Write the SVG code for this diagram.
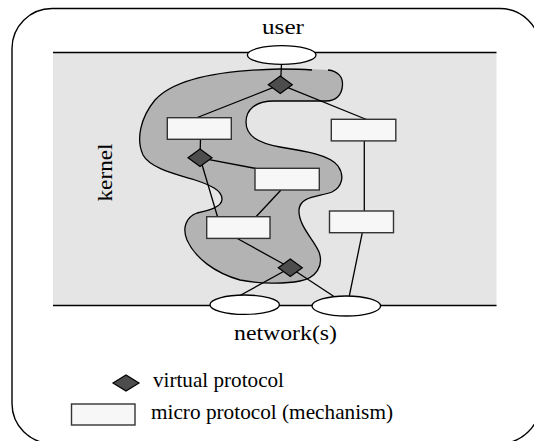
<svg xmlns="http://www.w3.org/2000/svg" width="534" height="441" viewBox="0 0 534 441">
  <style>
    .txt { font-family: "Liberation Serif", "DejaVu Serif", serif; font-size: 22px; fill: #000; }
    .leg { font-size: 21px; }
    .edge { stroke: #000; stroke-width: 1.3; fill: none; }
    .vp { fill: #4d4d4d; stroke: #000; stroke-width: 1.2; }
    .mp { fill: #f7f7f7; stroke: #333; stroke-width: 1.4; }
    .port { fill: #fff; stroke: #000; stroke-width: 1.3; }
  </style>
  <defs>
    <path id="diamond" d="M0,-8.7 L12,0 L0,8.7 L-12,0 Z"/>
  </defs>

  <!-- frame -->
  <rect x="12" y="8.5" width="528" height="435" rx="40" ry="40" fill="#fff" stroke="#000" stroke-width="1.4"/>

  <!-- kernel band -->
  <g id="kernel">
    <rect x="53" y="52.5" width="443.5" height="253" fill="#e5e5e5"/>
    <line x1="53" y1="52.5" x2="496.5" y2="52.5" stroke="#000" stroke-width="1.3"/>
    <line x1="53" y1="305.5" x2="496.5" y2="305.5" stroke="#000" stroke-width="1.3"/>
    <text class="txt" font-family="Liberation Serif, DejaVu Serif, serif" transform="translate(111.5,172.5) rotate(-90)" text-anchor="middle" textLength="58" lengthAdjust="spacingAndGlyphs">kernel</text>
  </g>

  <!-- region covered by the virtual protocols -->
  <g id="vp-region">
    <path d="M280,69 C300,69 318,69 328,70 C338,71 343,77 342.5,85 C342,95 336,101 326,101 L274,101 C255,101 246,110 246,122 C246,136 258,143 280,147 C305,151 330,155 338,166 C345,176 342,187 332,192 C318,197 300,196 299,210 C298,225 314,240 319,252 C324,266 316,278 300,281 C285,284 260,284 240,280 C215,273 195,258 187,240 C182,228 186,217 197,213 C210,210 222,207 222,199 C222,190 210,185 195,180 C175,174 150,168 143,155 C136,140 140,118 155,100 C175,78 225,70 280,69 Z" fill="#b3b3b3"/>
    <path d="M312,70 C300,69 290,69 280,69 C225,70 175,78 155,100 C140,118 136,140 143,155 C150,168 175,174 195,180 C210,185 222,190 222,199 C222,207 210,210 197,213 C186,217 182,228 187,240 C195,258 215,273 240,280 C260,284 285,284 300,281 C316,278 324,266 319,252 C314,240 298,225 299,210 C300,196 318,197 332,192 C342,187 345,176 338,166 C330,155 305,151 280,147 C258,143 246,136 246,122 C246,110 255,101 274,101 L326,101 C336,101 342,95 342.5,85 C343,77 338,71 328,70" fill="none" stroke="#000" stroke-width="1.3"/>
  </g>

  <!-- connectors -->
  <g id="connectors" class="edge">
    <line x1="281.5" y1="64" x2="280.5" y2="84.7"/>
    <line x1="280.5" y1="84.7" x2="196" y2="118"/>
    <line x1="280.5" y1="84.7" x2="366.5" y2="119.5"/>
    <line x1="200.5" y1="139.5" x2="200" y2="157.8"/>
    <line x1="200" y1="157.8" x2="256" y2="168.5"/>
    <line x1="200" y1="157.8" x2="217.5" y2="216.7"/>
    <line x1="281" y1="190" x2="256" y2="216.7"/>
    <line x1="364.3" y1="141" x2="364.3" y2="211"/>
    <line x1="362.3" y1="232.7" x2="349.3" y2="296"/>
    <line x1="237.3" y1="238.5" x2="290.3" y2="267.8"/>
    <line x1="290.3" y1="267.8" x2="240" y2="295.5"/>
    <line x1="290.3" y1="267.8" x2="334" y2="296.5"/>
  </g>

  <!-- end points -->
  <g id="user">
    <ellipse class="port" cx="281.7" cy="55" rx="34.3" ry="9.3"/>
    <text class="txt" font-family="Liberation Serif, DejaVu Serif, serif" x="283" y="34" text-anchor="middle" textLength="42" lengthAdjust="spacingAndGlyphs">user</text>
  </g>
  <g id="net-a">
    <ellipse class="port" cx="244.7" cy="304.7" rx="34.7" ry="9.7"/>
  </g>
  <g id="net-b">
    <ellipse class="port" cx="346.3" cy="306" rx="34.3" ry="10"/>
  </g>
  <text class="txt" font-family="Liberation Serif, DejaVu Serif, serif" x="285.5" y="340" text-anchor="middle" textLength="103" lengthAdjust="spacingAndGlyphs">network(s)</text>

  <!-- virtual protocols -->
  <g id="vp-top"><use href="#diamond" class="vp" x="280.3" y="84.7"/></g>
  <g id="vp-mid"><use href="#diamond" class="vp" x="200" y="157.8"/></g>
  <g id="vp-low"><use href="#diamond" class="vp" x="290.3" y="267.8"/></g>

  <!-- micro protocols -->
  <g id="mp-a"><rect class="mp" x="167.3" y="117.7" width="64" height="21.6"/></g>
  <g id="mp-b"><rect class="mp" x="331.3" y="119.3" width="64.5" height="21.6"/></g>
  <g id="mp-c"><rect class="mp" x="255" y="168.3" width="64.3" height="21.7"/></g>
  <g id="mp-d"><rect class="mp" x="206.7" y="216.7" width="63.3" height="21.7"/></g>
  <g id="mp-e"><rect class="mp" x="329.5" y="211" width="64" height="21.7"/></g>

  <!-- legend -->
  <g id="legend">
    <path class="vp" d="M113,383 L126,375 L139,383 L126,391 Z"/>
    <text class="txt leg" font-family="Liberation Serif, DejaVu Serif, serif" x="153" y="387" textLength="131" lengthAdjust="spacingAndGlyphs">virtual protocol</text>
    <rect class="mp" x="71.5" y="404" width="63.5" height="21"/>
    <text class="txt leg" font-family="Liberation Serif, DejaVu Serif, serif" x="151" y="418.5" textLength="242" lengthAdjust="spacingAndGlyphs">micro protocol (mechanism)</text>
  </g>
</svg>
